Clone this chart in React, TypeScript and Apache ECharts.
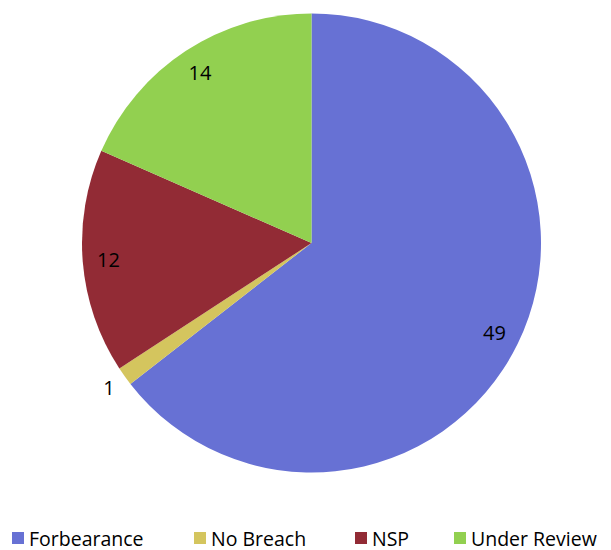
import React, { useEffect, useRef } from "react";
import * as echarts from "echarts";

const categories = ["Forbearance", "No Breach", "NSP", "Under Review"];
const values = [49, 1, 12, 14];
const colors = ["#6771D4", "#D4C55E", "#922B35", "#92D050"];
const outsideLabel = ["No Breach"];
const legendLeft = [12, 194, 355, 454];

export default function App() {
  const ref = useRef<HTMLDivElement>(null);
  useEffect(() => {
    if (!ref.current) return;
    const chart = echarts.init(ref.current, undefined, { renderer: "svg" });
    const font = "'Open Sans', sans-serif";
    const baseData = categories.map((c, i) => ({
      name: c,
      value: values[i],
      itemStyle: { color: colors[i] },
    }));
    const center = [311.5, 243];
    chart.setOption({
      animation: false,
      backgroundColor: "#ffffff",
      legend: categories.map((c, i) => ({
        data: [c],
        left: legendLeft[i],
        top: 528,
        padding: 0,
        orient: "horizontal",
        itemWidth: 12,
        itemHeight: 12,
        itemGap: 0,
        icon: "rect",
        selectedMode: false,
        textStyle: { fontFamily: font, fontSize: 19.5, lineHeight: 18, color: "#000" },
      })),
      series: [
        {
          type: "pie",
          center,
          radius: [0, 229.5],
          startAngle: 90,
          clockwise: true,
          silent: true,
          label: { show: false },
          labelLine: { show: false },
          data: baseData,
        },
        {
          type: "pie",
          center,
          radius: [172, 229.5],
          startAngle: 90,
          clockwise: true,
          silent: true,
          legendHoverLink: false,
          itemStyle: { color: "rgba(0,0,0,0)" },
          label: {
            show: true,
            position: "inside",
            fontFamily: font,
            fontSize: 20,
            color: "#000",
            formatter: (p: any) => (outsideLabel.includes(p.name) ? "" : String(p.value)),
          },
          labelLine: { show: false },
          data: categories.map((c, i) => ({ name: c, value: values[i] })),
        },
        {
          type: "pie",
          center,
          radius: [229.5, 262],
          startAngle: 90,
          clockwise: true,
          silent: true,
          legendHoverLink: false,
          itemStyle: { color: "rgba(0,0,0,0)" },
          label: {
            show: true,
            position: "inside",
            fontFamily: font,
            fontSize: 20,
            color: "#000",
            formatter: (p: any) => (outsideLabel.includes(p.name) ? String(p.value) : ""),
          },
          labelLine: { show: false },
          data: categories.map((c, i) => ({ name: c, value: values[i] })),
        },
      ],
    });
    return () => chart.dispose();
  }, []);
  return (
    <div
      ref={ref}
      style={{ position: "fixed", left: 0, top: 0, width: 611, height: 550 }}
    />
  );
}
